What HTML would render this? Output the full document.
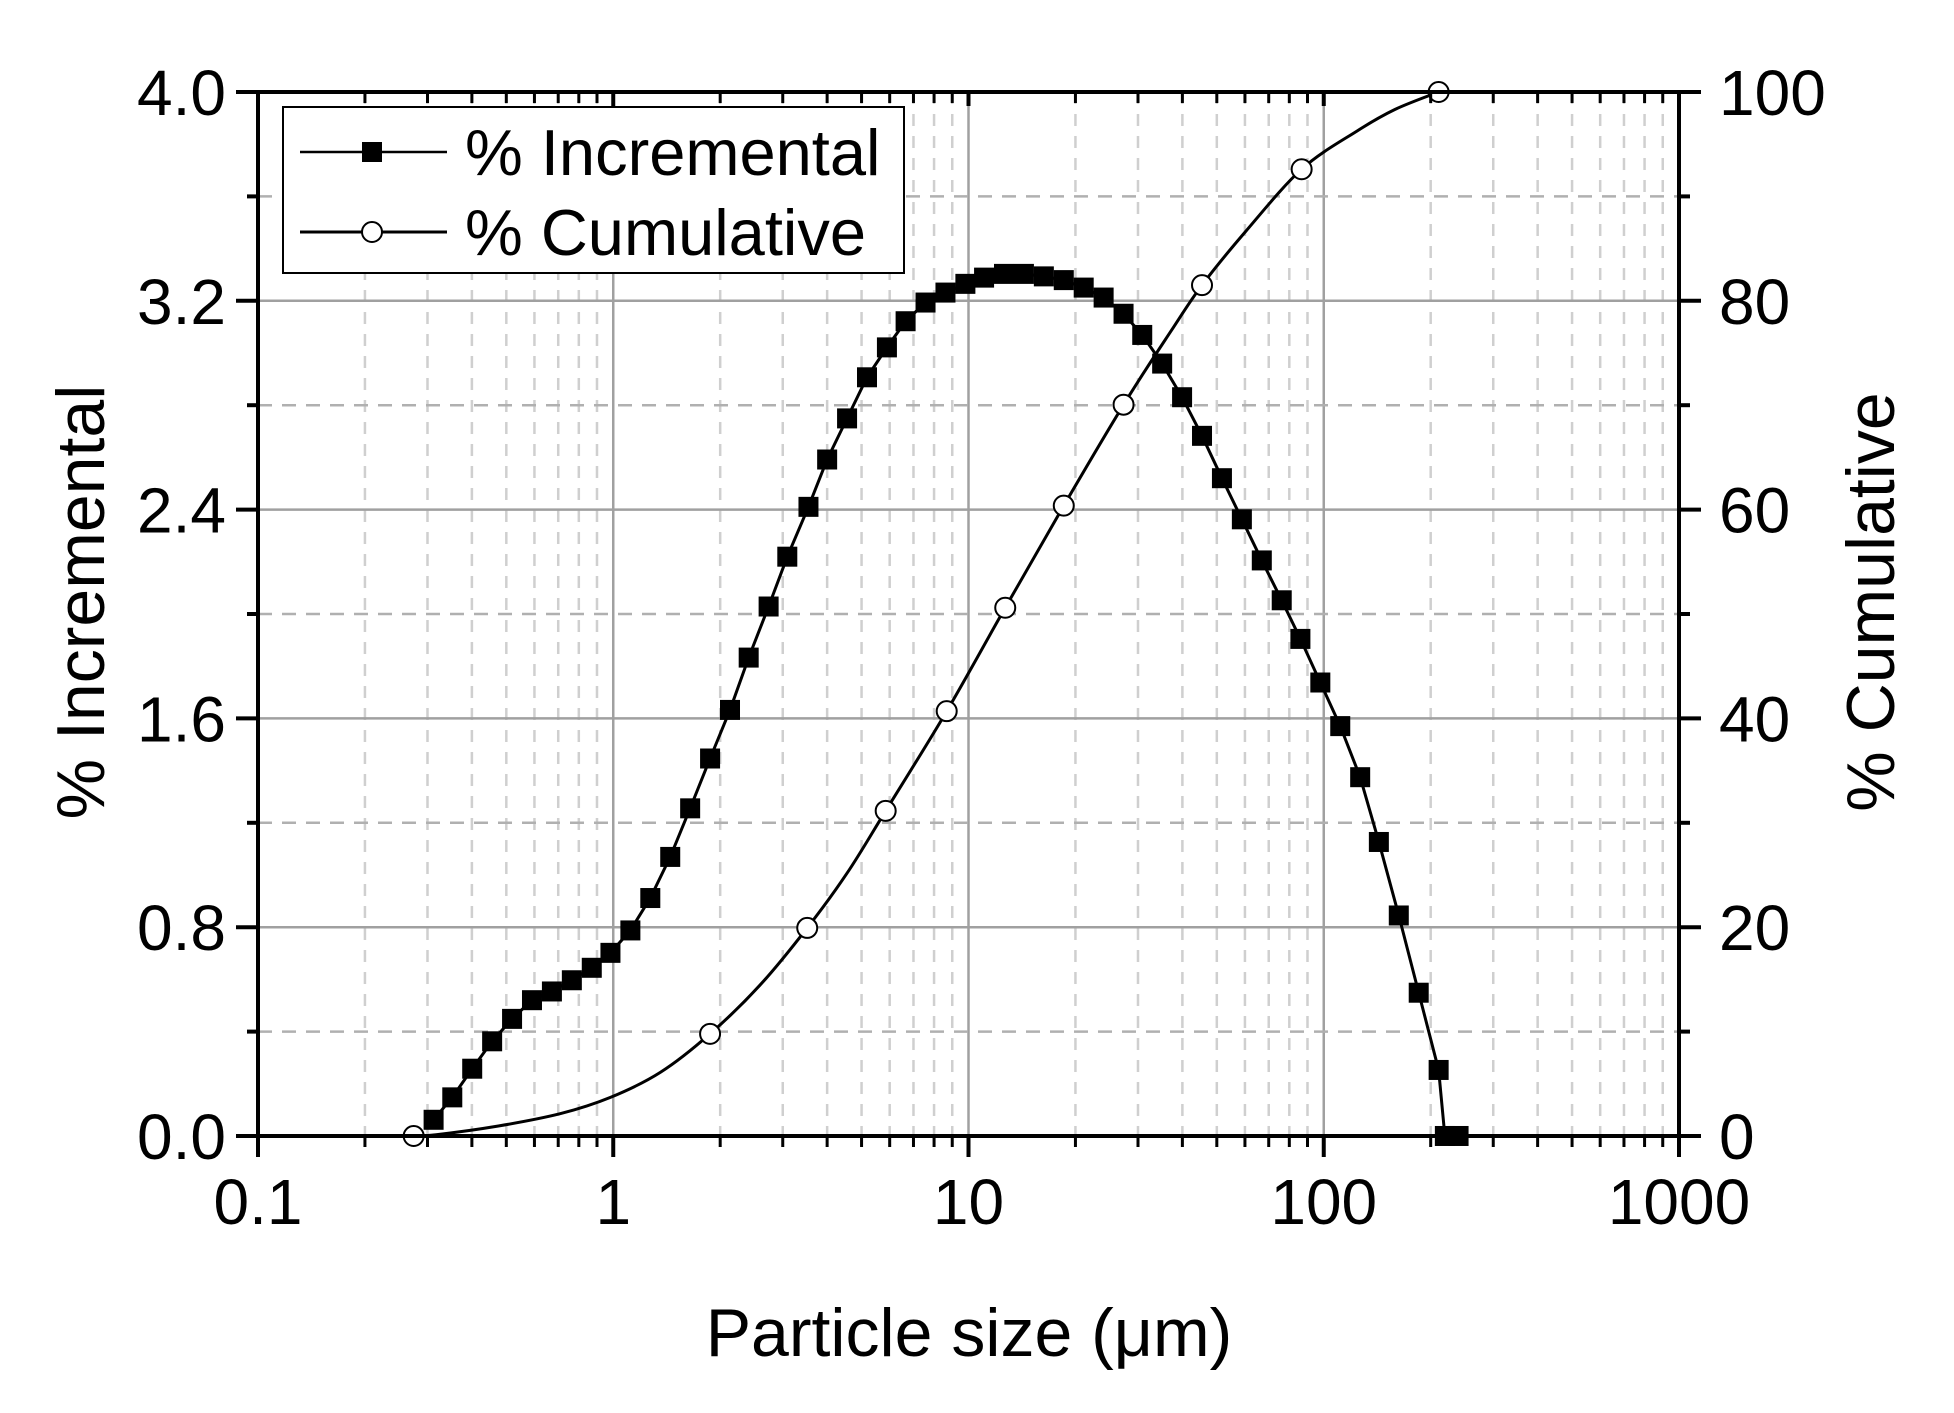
<!DOCTYPE html>
<html><head><meta charset="utf-8"><style>
html,body{margin:0;padding:0;background:#fff;}
svg{display:block;font-family:"Liberation Sans",Arial,sans-serif;}
</style></head><body>
<svg id="s" width="1954" height="1413" viewBox="0 0 1954 1413" xmlns="http://www.w3.org/2000/svg">
<rect width="1954" height="1413" fill="#fff"/>
<g id="grid"></g>
<g id="series"></g>
<g id="axes"></g>
<g id="legend">
<rect x="283" y="107" width="621" height="166" fill="#fff" stroke="#000" stroke-width="2"/>
<line x1="300" y1="152" x2="447" y2="152" stroke="#000" stroke-width="2.5"/>
<rect x="362" y="142" width="20" height="20" fill="#000"/>
<line x1="300" y1="232" x2="447" y2="232" stroke="#000" stroke-width="3"/>
<circle cx="372" cy="232" r="10" fill="#fff" stroke="#000" stroke-width="2"/>
<text x="465" y="175" font-size="65">% Incremental</text>
<text x="465" y="255" font-size="65">% Cumulative</text>
</g>
<text x="80" y="602" font-size="68" text-anchor="middle" transform="rotate(-90 80 602)" dy="24">% Incremental</text>
<text x="1870" y="602" font-size="68" text-anchor="middle" transform="rotate(-90 1870 602)" dy="24">% Cumulative</text>
<text x="969" y="1356" font-size="68" text-anchor="middle">Particle size (μm)</text>
</svg>
<script>
var NS="http://www.w3.org/2000/svg";
function el(p,t,a,txt){var e=document.createElementNS(NS,t);for(var k in a)e.setAttribute(k,a[k]);if(txt!==undefined)e.textContent=txt;document.getElementById(p).appendChild(e);return e;}
var X0=258,X1=1679,Y0=1136,Y1=92,DEC=(X1-X0)/4;
function xl(v){return X0+(Math.log10(v)+1)*DEC;}
function yv(v){return Y0-(v/4)*(Y0-Y1);}
for(var d=-1;d<3;d++){for(var m=2;m<=9;m++){var x=xl(m*Math.pow(10,d));
 el("grid","line",{x1:x,y1:Y1,x2:x,y2:Y0,stroke:"#cfcfcf","stroke-width":2.5,"stroke-dasharray":"12,10"});}}
for(var d=0;d<3;d++){var x=xl(Math.pow(10,d));el("grid","line",{x1:x,y1:Y1,x2:x,y2:Y0,stroke:"#a0a0a0","stroke-width":2.5});}
for(var i=1;i<10;i++){var y=yv(i*0.4);
 if(i%2==0)el("grid","line",{x1:X0,y1:y,x2:X1,y2:y,stroke:"#a0a0a0","stroke-width":2.5});
 else el("grid","line",{x1:X0,y1:y,x2:X1,y2:y,stroke:"#b0b0b0","stroke-width":2.5,"stroke-dasharray":"14,10"});}
el("axes","rect",{x:X0,y:Y1,width:X1-X0,height:Y0-Y1,fill:"none",stroke:"#000","stroke-width":4});
for(var d=-1;d<=3;d++){var x=xl(Math.pow(10,d));
 el("axes","line",{x1:x,y1:Y0,x2:x,y2:Y0+21,stroke:"#000","stroke-width":4});
 el("axes","line",{x1:x,y1:Y1,x2:x,y2:Y1+14,stroke:"#000","stroke-width":4});
 el("axes","text",{x:x,y:1224,"font-size":64,"text-anchor":"middle"},["0.1","1","10","100","1000"][d+1]);
 if(d<3)for(var m=2;m<=9;m++){var xm=xl(m*Math.pow(10,d));
  el("axes","line",{x1:xm,y1:Y0,x2:xm,y2:Y0+11,stroke:"#000","stroke-width":3});
  el("axes","line",{x1:xm,y1:Y1,x2:xm,y2:Y1+11,stroke:"#000","stroke-width":3});}}
var ll=["0.0","0.8","1.6","2.4","3.2","4.0"],rl=["0","20","40","60","80","100"];
for(var i=0;i<=10;i++){var y=yv(i*0.4);
 if(i%2==0){el("axes","line",{x1:X0-22,y1:y,x2:X0,y2:y,stroke:"#000","stroke-width":4});
  el("axes","line",{x1:X1,y1:y,x2:X1+22,y2:y,stroke:"#000","stroke-width":4});
  el("axes","text",{x:226,y:y+23,"font-size":64,"text-anchor":"end"},ll[i/2]);
  el("axes","text",{x:1719,y:y+23,"font-size":64},rl[i/2]);}
 else{el("axes","line",{x1:X0-11,y1:y,x2:X0,y2:y,stroke:"#000","stroke-width":4});
  el("axes","line",{x1:X1,y1:y,x2:X1+11,y2:y,stroke:"#000","stroke-width":4});}}
function rx(x){return 258+(x-207)*1.2454;}function ry(y){return 92+(y-73)*1.2458;}
var sq=[[348,898],[363,880],[379,857],[395,835],[411,817],[427,802],[443,795],[459,786],[475,776],[490,764],[506,746],[522,720],[538,687],[554,648],[570,608],[586,569],[601,527],[617,486],[632,446],[649,406],[664,368],[680,335],[696,302],[712,278],[727,257],[743,242],[759,234],[775,227],[790,222],[806,219],[822,219],[838,221],[854,224],[870,230],[886,238],[902,251],[917,268],[933,291],[949,318],[965,349],[981,383],[997,416],[1013,449],[1029,481],[1044,512],[1060,547],[1076,582],[1092,623],[1107,675],[1123,734],[1139,796],[1155,858],[1160,911],[1171,911]];
var pts=sq.map(function(p){return rx(p[0])+","+ry(p[1]);}).join(" ");
el("series","polyline",{points:pts,fill:"none",stroke:"#000","stroke-width":3});
var cu=[[332,911],[350,910],[400,903],[450,893],[490,880],[530,860],[570,829],[610,790],[648,744],[680,700],[711,650],[760,570],[807,487],[854,405],[902,324],[940,265],[965,228],[1000,185],[1045,135],[1090,104],[1120,87],[1155,73]];
var P=cu.map(function(p){return [rx(p[0]),ry(p[1])];});
var d="M"+P[0][0].toFixed(1)+" "+P[0][1].toFixed(1);
for(var i=0;i<P.length-1;i++){var p0=P[Math.max(0,i-1)],p1=P[i],p2=P[i+1],p3=P[Math.min(P.length-1,i+2)];
 var c1=[p1[0]+(p2[0]-p0[0])/6,p1[1]+(p2[1]-p0[1])/6],c2=[p2[0]-(p3[0]-p1[0])/6,p2[1]-(p3[1]-p1[1])/6];
 d+=" C"+c1[0].toFixed(1)+" "+c1[1].toFixed(1)+" "+c2[0].toFixed(1)+" "+c2[1].toFixed(1)+" "+p2[0].toFixed(1)+" "+p2[1].toFixed(1);}
el("series","path",{d:d,fill:"none",stroke:"#000","stroke-width":3});
sq.forEach(function(p){el("series","rect",{x:rx(p[0])-10,y:ry(p[1])-10,width:20,height:20,fill:"#000"});});
[[332,911],[570,829],[648,744],[711,650],[760,570],[807,487],[854,405],[902,324],[965,228],[1045,135],[1155,73]].forEach(function(p){
 el("series","circle",{cx:rx(p[0]),cy:ry(p[1]),r:10,fill:"#fff",stroke:"#000","stroke-width":2});});
</script>
</body></html>
